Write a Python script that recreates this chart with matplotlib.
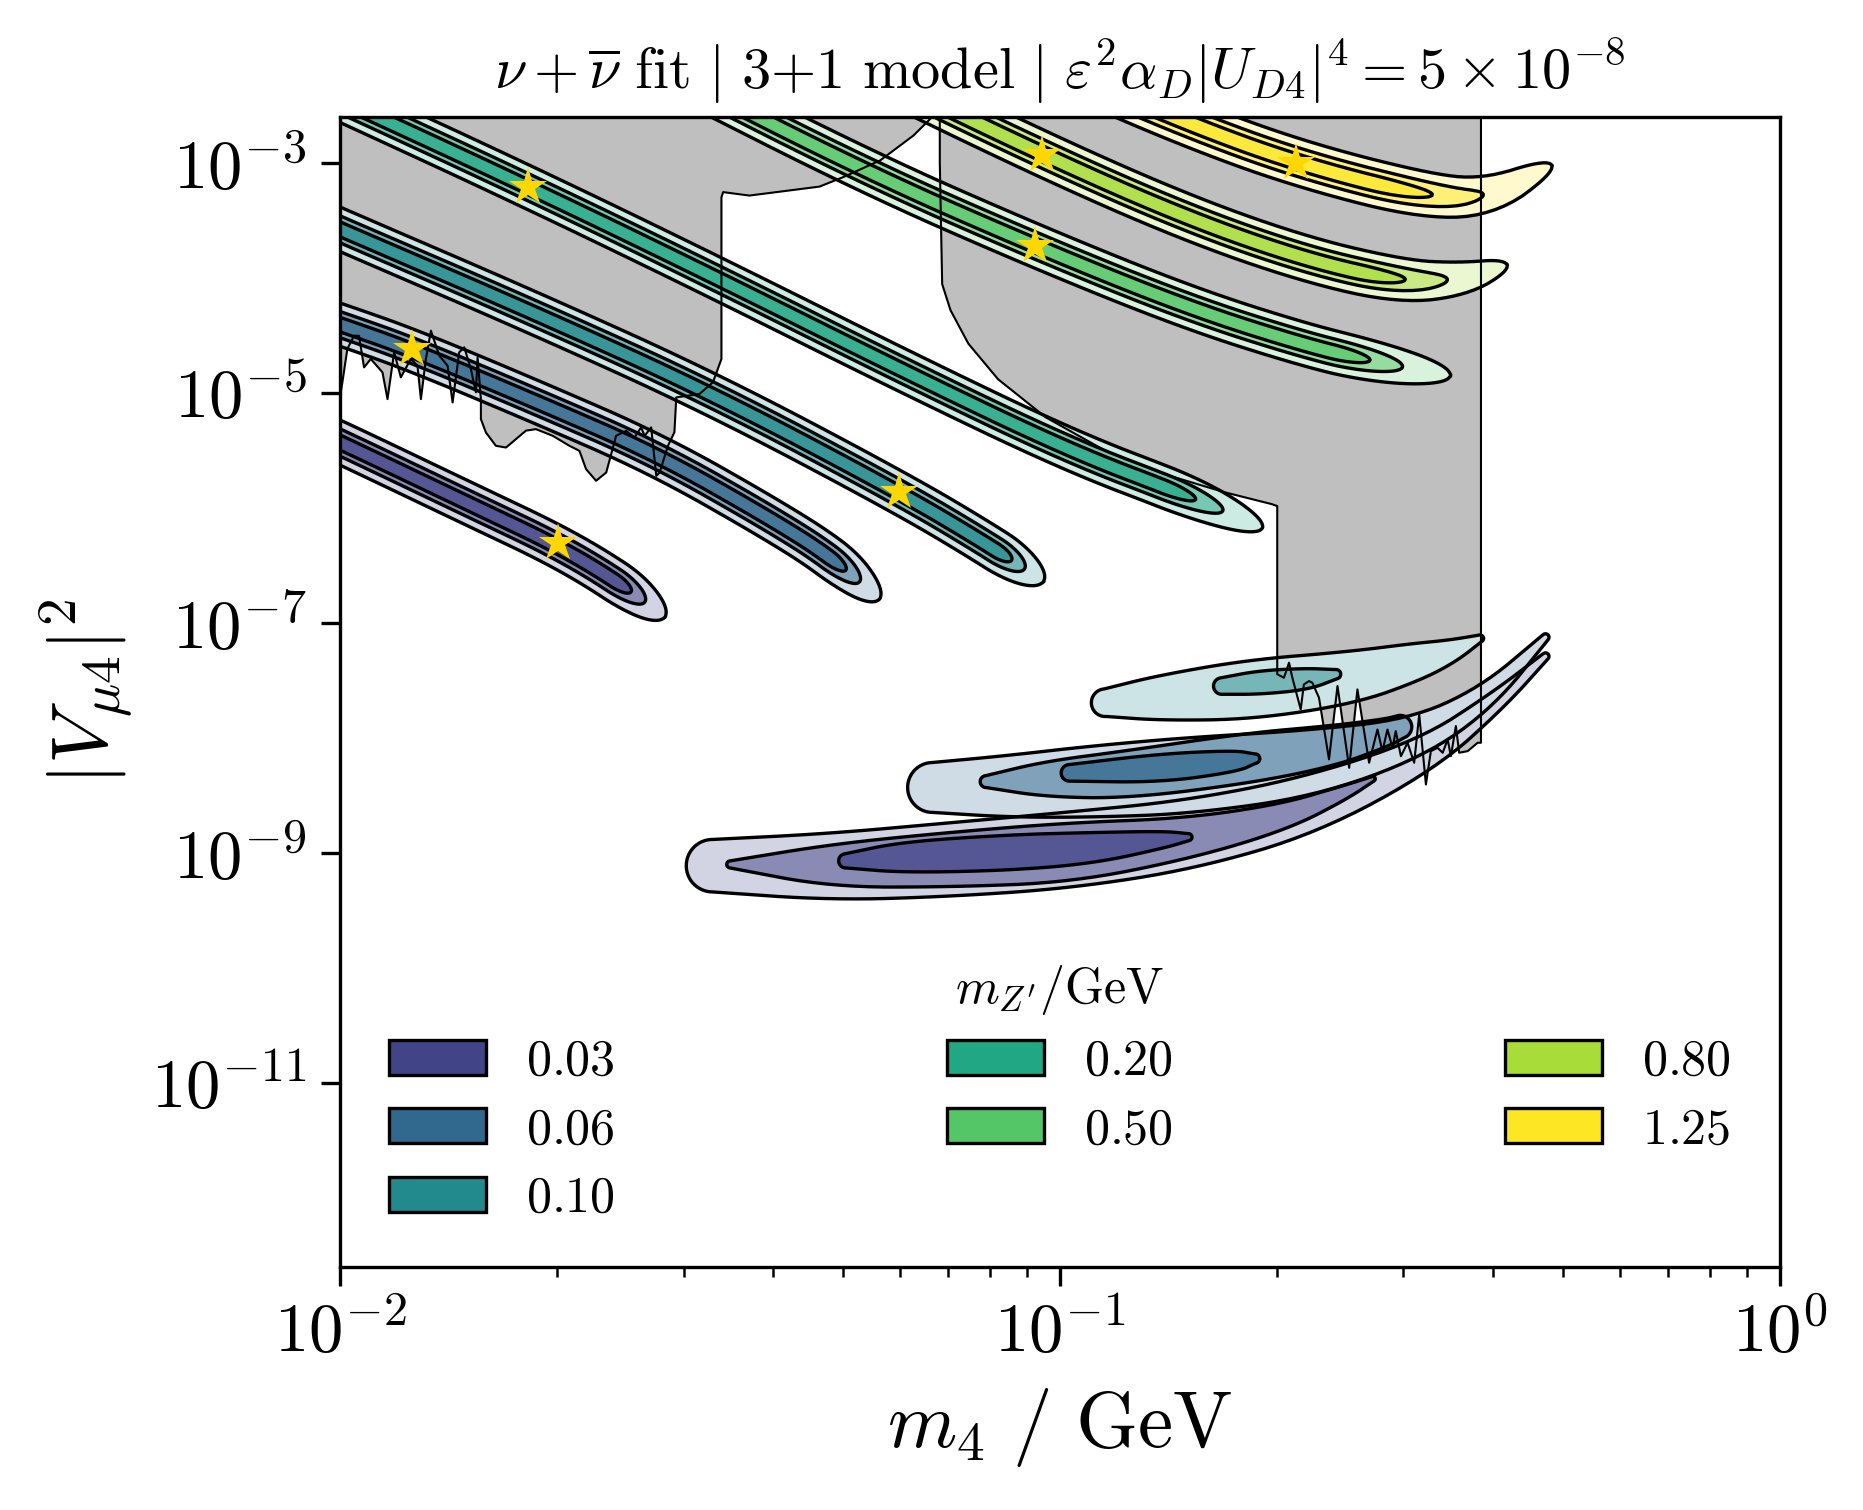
import numpy as np
import matplotlib
matplotlib.use('Agg')
import matplotlib.pyplot as plt
from matplotlib.patches import Patch

plt.rcParams['mathtext.fontset'] = 'cm'
plt.rcParams['font.family'] = 'serif'
plt.rcParams['font.serif'] = ['cmr10', 'DejaVu Serif']
plt.rcParams['axes.formatter.use_mathtext'] = True

# ------------------------------------------------------------------ data
mzp_labels = ['0.03', '0.06', '0.10', '0.20', '0.50', '0.80', '1.25']
mzp_colors = ['#414487', '#31688e', '#228a8d', '#22a785', '#55c667', '#a7dc39', '#fde725']

# regime m4 < mZ': best-fit ridges, log10(m4/GeV), log10(|V_mu4|^2)
b03_x = [-2.045, -2.0, -1.813, -1.698, -1.615, -1.549]
b03_y = [-5.306, -5.430, -5.989, -6.330, -6.640, -6.950]
b06_x = [-2.045, -2.0, -1.901, -1.731, -1.560, -1.400, -1.317, -1.251]
b06_y = [-4.313, -4.406, -4.624, -5.068, -5.534, -6.102, -6.433, -6.795]
b10_x = [-2.045, -2.0, -1.731, -1.483, -1.223, -1.103, -1.023]
b10_y = [-3.455, -3.579, -4.303, -5.006, -5.865, -6.309, -6.640]
b20_x = [-2.045, -2.0, -1.739, -1.483, -1.218, -0.987, -0.822, -0.719]
b20_y = [-2.328, -2.452, -3.207, -3.982, -4.810, -5.503, -5.896, -6.175]
b50_x = [-1.549, -1.268, -1.035, -0.822, -0.656, -0.557, -0.458]
b50_y = [-2.193, -3.083, -3.724, -4.262, -4.593, -4.737, -4.851]
b80_x = [-1.284, -1.025, -0.822, -0.656, -0.524, -0.441, -0.379]
b80_y = [-2.142, -2.928, -3.486, -3.848, -4.034, -4.013, -3.889]
b125_x = [-0.987, -0.822, -0.673, -0.503, -0.408, -0.317]
b125_y = [-2.214, -2.659, -3.000, -3.279, -3.310, -3.021]
# half-widths of the three C.L. regions (decades), per-band width factor, ridge end length
band_halfwidth = [0.06, 0.108, 0.178]
band_widthfac = [1.0, 1.0, 1.0, 1.0, 1.03, 1.08, 1.12]
band_taper = [0.55, 0.58, 0.50, 0.95, 1.07, 1.36, 1.65]

# regime m4 > mZ': islands, each level = ridge (log10 m4, log10 |V|^2, half-width dex)
isl03_out = [(-1.4826, -9.112, 0.228), (-1.3174, -9.122, 0.29), (-1.1521, -9.060, 0.32),
             (-0.9868, -8.977, 0.33), (-0.8215, -8.845, 0.30), (-0.6562, -8.595, 0.25),
             (-0.4909, -8.150, 0.145), (-0.3917, -7.674, 0.083), (-0.3256, -7.292, 0.031)]
isl03_mid = [(-1.4579, -9.101, 0.031), (-1.3174, -9.112, 0.186), (-1.1521, -9.060, 0.238),
             (-0.9868, -8.998, 0.259), (-0.8215, -8.874, 0.176), (-0.6893, -8.688, 0.114),
             (-0.6066, -8.481, 0.062), (-0.5653, -8.357, 0.021)]
isl03_in = [(-1.2975, -9.070, 0.062), (-1.2182, -9.039, 0.134), (-1.0694, -8.998, 0.155),
            (-0.9537, -8.957, 0.134), (-0.8545, -8.884, 0.072), (-0.8215, -8.864, 0.031)]
isl06_out = [(-1.1769, -8.432, 0.217), (-1.0694, -8.422, 0.269), (-0.9537, -8.381, 0.31),
             (-0.8215, -8.329, 0.331), (-0.6562, -8.226, 0.29), (-0.5074, -8.009, 0.176),
             (-0.4083, -7.654, 0.103), (-0.3256, -7.126, 0.031)]
isl06_mid = [(-1.1025, -8.381, 0.052), (-1.0198, -8.360, 0.155), (-0.9041, -8.319, 0.207),
             (-0.7355, -8.174, 0.217), (-0.6231, -8.071, 0.176), (-0.5488, -7.957, 0.12),
             (-0.5273, -7.905, 0.10)]
isl06_in = [(-0.9868, -8.305, 0.072), (-0.8612, -8.264, 0.124), (-0.7554, -8.202, 0.093),
            (-0.7289, -8.181, 0.041)]
isl10_out = [(-0.9372, -7.695, 0.12), (-0.8612, -7.654, 0.196), (-0.7355, -7.581, 0.259),
             (-0.5967, -7.478, 0.228), (-0.5074, -7.343, 0.165), (-0.4579, -7.250, 0.103),
             (-0.4165, -7.136, 0.031)]
isl10_mid = [(-0.7752, -7.550, 0.072), (-0.7223, -7.519, 0.103), (-0.6562, -7.488, 0.093),
             (-0.6165, -7.447, 0.041)]

# best-fit points (log10)
star_x = [-1.6975, -1.8998, -1.2231, -1.7388, -1.0347, -1.0248, -0.6727]
star_y = [-6.309, -4.619, -5.865, -3.207, -3.724, -2.928, -3.000]

# excluded regions (log10 m4, log10 |V|^2)
grayA = [(-2.0, -2.55), (-1.170, -2.55), (-1.180, -2.617), (-1.2033, -2.762), (-1.2496, -2.979),
         (-1.3008, -3.124), (-1.3339, -3.207), (-1.4314, -3.285), (-1.4678, -3.255),
         (-1.4702, -3.30), (-1.4702, -4.706), (-1.482, -4.909), (-1.5008, -5.011),
         (-1.5329, -5.040), (-1.5355, -5.343), (-1.5445, -5.461), (-1.556, -5.693),
         (-1.5607, -5.722), (-1.5678, -5.301), (-1.5769, -5.374), (-1.5818, -5.301),
         (-1.5909, -5.389), (-1.6025, -5.331), (-1.6165, -5.374), (-1.6302, -5.693),
         (-1.6443, -5.765), (-1.6582, -5.664), (-1.6674, -5.505), (-1.6813, -5.461),
         (-1.7045, -5.374), (-1.7278, -5.316), (-1.7417, -5.329), (-1.7694, -5.476),
         (-1.7835, -5.461), (-1.7974, -5.344), (-1.8043, -5.229), (-1.8043, -5.055),
         (-1.8089, -4.692), (-1.8112, -4.996), (-1.8182, -4.793), (-1.8274, -4.605),
         (-1.8344, -4.648), (-1.8436, -5.084), (-1.8506, -4.764), (-1.8621, -4.677),
         (-1.8737, -4.460), (-1.8807, -4.706), (-1.8876, -5.055), (-1.8924, -4.764),
         (-1.9017, -4.706), (-1.9155, -4.866), (-1.9248, -4.648), (-1.9340, -5.055),
         (-1.9410, -4.822), (-1.9572, -4.706), (-1.9666, -4.779), (-1.9736, -4.504),
         (-1.9805, -4.504), (-1.9898, -4.619), (-1.9967, -4.909), (-2.0, -5.04)]
grayB = [(-1.1669, -2.55), (-1.1669, -3.0), (-1.1636, -4.055), (-1.152, -4.282),
         (-1.1273, -4.572), (-1.0860, -4.882), (-1.0198, -5.213), (-0.9372, -5.503),
         (-0.8545, -5.709), (-0.7719, -5.864), (-0.7058, -5.968), (-0.6982, -5.985),
         (-0.6982, -7.447), (-0.6889, -7.478), (-0.6818, -7.347), (-0.6772, -7.478),
         (-0.6656, -7.753), (-0.6612, -7.536), (-0.6541, -7.507), (-0.6494, -7.521),
         (-0.6402, -7.652), (-0.6263, -8.188), (-0.6145, -7.550), (-0.5983, -8.261),
         (-0.5868, -7.579), (-0.5706, -8.217), (-0.5590, -7.928), (-0.5521, -8.116),
         (-0.5451, -7.928), (-0.5380, -8.087), (-0.5336, -7.942), (-0.5264, -8.160),
         (-0.5172, -8.043), (-0.5080, -8.217), (-0.5010, -7.797), (-0.4917, -8.406),
         (-0.4848, -8.116), (-0.4755, -8.087), (-0.4684, -8.130), (-0.4615, -8.014),
         (-0.4570, -8.160), (-0.4501, -7.898), (-0.4455, -8.130), (-0.4337, -8.116),
         (-0.4198, -8.043), (-0.4152, -8.043), (-0.4152, -2.55)]

xtick_vals = [1e-2, 1e-1, 1e0]
xtick_labels = [r'$10^{-2}$', r'$10^{-1}$', r'$10^{0}$']
ytick_vals = [1e-11, 1e-9, 1e-7, 1e-5, 1e-3]
ytick_labels = [r'$10^{-11}$', r'$10^{-9}$', r'$10^{-7}$', r'$10^{-5}$', r'$10^{-3}$']
XLIM = (1e-2, 1e0)
YLIM = (2.5e-13, 2.5e-3)

# ------------------------------------------------------------------ helpers
def tint(hexc, a):
    c = np.array(matplotlib.colors.to_rgb(hexc))
    return tuple(a * c + (1 - a) * np.ones(3))

def chaikin(arr, n=3):
    """corner-cutting smoothing of a polyline (rows = vertices), ends kept"""
    a = np.asarray(arr, float)
    for _ in range(n):
        q = 0.75 * a[:-1] + 0.25 * a[1:]
        r = 0.25 * a[:-1] + 0.75 * a[1:]
        mid = np.empty((2 * len(q), a.shape[1]))
        mid[0::2] = q
        mid[1::2] = r
        a = np.vstack([a[:1], mid, a[-1:]])
    return a

def ridge_field(U, V, pu, pv, pw=None):
    best_d = np.full(U.shape, np.inf)
    best_t = np.zeros(U.shape)
    best_w = np.zeros(U.shape)
    cum = 0.0
    for i in range(len(pu) - 1):
        x0, y0, x1, y1 = pu[i], pv[i], pu[i + 1], pv[i + 1]
        dx, dy = x1 - x0, y1 - y0
        L2 = dx * dx + dy * dy
        if L2 == 0:
            continue
        s = np.clip(((U - x0) * dx + (V - y0) * dy) / L2, 0, 1)
        d = np.hypot(U - (x0 + s * dx), V - (y0 + s * dy))
        m = d < best_d
        best_d = np.where(m, d, best_d)
        best_t = np.where(m, cum + s * np.sqrt(L2), best_t)
        if pw is not None:
            best_w = np.where(m, pw[i] + s * (pw[i + 1] - pw[i]), best_w)
        cum += np.sqrt(L2)
    return best_d, best_t, best_w, cum

# ------------------------------------------------------------------ figure
fig = plt.figure(figsize=(1863 / 300, 1510 / 300), dpi=300)
fig.subplots_adjust(left=0.1825, right=0.9554, bottom=0.1609, top=0.9225)
ax = fig.add_subplot(111)
ax.set_xscale('log')
ax.set_yscale('log')
ax.set_xlim(*XLIM)
ax.set_ylim(*YLIM)

W = 1863 * (0.9554 - 0.1825)
H = 1510 * (0.9225 - 0.1609)
sx = W / (np.log10(XLIM[1]) - np.log10(XLIM[0]))
sy = H / (np.log10(YLIM[1]) - np.log10(YLIM[0]))
asp = sx / sy

lxg = np.linspace(-2.1, 0.05, 1100)
lyg = np.linspace(-12.7, -2.0, 900)
LX, LY = np.meshgrid(lxg, lyg)
U = LX * asp
V = LY
MX, MY = 10 ** LX, 10 ** LY

shade = [0.9, 0.62, 0.23]   # inner, mid, outer
LW = 0.8

for poly in (grayA, grayB):
    px = [10 ** p[0] for p in poly]
    py = [10 ** p[1] for p in poly]
    ax.fill(px, py, color='#bfbfbf', lw=0, zorder=1)
    ax.plot(px + [px[0]], py + [py[0]], color='k', lw=0.5, zorder=4)

bands = [(b03_x, b03_y), (b06_x, b06_y), (b10_x, b10_y), (b20_x, b20_y),
         (b50_x, b50_y), (b80_x, b80_y), (b125_x, b125_y)]
for k, (bx, by) in enumerate(bands):
    sm = chaikin(np.column_stack([np.array(bx) * asp, by]), 3)
    d, t, _, L = ridge_field(U, V, sm[:, 0], sm[:, 1])
    T = band_taper[k]
    levs = [w * band_widthfac[k] for w in band_halfwidth]
    ramp = levs[2] * np.clip((t - (L - T)) / T, 0, None)
    f = np.sqrt(d ** 2 + ramp ** 2)
    cols = [tint(mzp_colors[k], a) for a in shade]
    ax.contourf(MX, MY, f, levels=[-1] + levs, colors=cols, zorder=2)
    ax.contour(MX, MY, f, levels=levs, colors='k', linewidths=LW, zorder=3)

islands = [(isl03_out, 0, 2), (isl03_mid, 0, 1), (isl03_in, 0, 0),
           (isl06_out, 1, 2), (isl06_mid, 1, 1), (isl06_in, 1, 0),
           (isl10_out, 2, 2), (isl10_mid, 2, 1)]
for pts, ci, lev in islands:
    arr = np.array(pts, float)
    arr[:, 0] *= asp
    sm = chaikin(arr, 3)
    d, t, w, L = ridge_field(U, V, sm[:, 0], sm[:, 1], sm[:, 2])
    f = d / np.maximum(w, 1e-4)
    ax.contourf(MX, MY, f, levels=[-1, 1], colors=[tint(mzp_colors[ci], shade[lev])], zorder=2)
    ax.contour(MX, MY, f, levels=[1], colors='k', linewidths=LW, zorder=3)

ax.plot(10 ** np.array(star_x), 10 ** np.array(star_y), ls='none', marker='*',
        ms=9.5, color='#ffd700', mew=0, zorder=6)

ax.set_xticks(xtick_vals)
ax.set_xticklabels(xtick_labels)
ax.set_yticks(ytick_vals)
ax.set_yticklabels(ytick_labels)
ax.yaxis.set_minor_locator(matplotlib.ticker.NullLocator())
ax.tick_params(axis='both', which='major', labelsize=16.5, length=4.5, width=0.8)
ax.tick_params(axis='x', which='minor', length=2.5, width=0.6)

ax.set_xlabel(r'$m_4\ /\ \mathrm{GeV}$', fontsize=19, labelpad=5)
ax.set_ylabel(r'$|V_{\mu 4}|^2$', fontsize=19)
ax.set_title(r'$\nu + \overline{\nu}\ \mathrm{fit}\ |\ \mathrm{3{+}1\ model}\ |\ '
             r'\varepsilon^2\alpha_D|U_{D4}|^4 = 5\times 10^{-8}$', fontsize=14, pad=7)

handles = [Patch(facecolor=c, edgecolor='k', lw=0.8) for c in mzp_colors]
leg = ax.legend(handles, ['$' + s + '$' for s in mzp_labels], ncol=3, loc='lower left',
                bbox_to_anchor=(0.02, 0.022, 0.96, 0.3), mode='expand', frameon=False,
                fontsize=12, title=r'$m_{Z^\prime}/\mathrm{GeV}$', title_fontsize=12,
                handlelength=1.95, handleheight=0.7, labelspacing=0.45, handletextpad=0.8,
                borderaxespad=0.0)

fig.savefig('out.png', dpi=300)
